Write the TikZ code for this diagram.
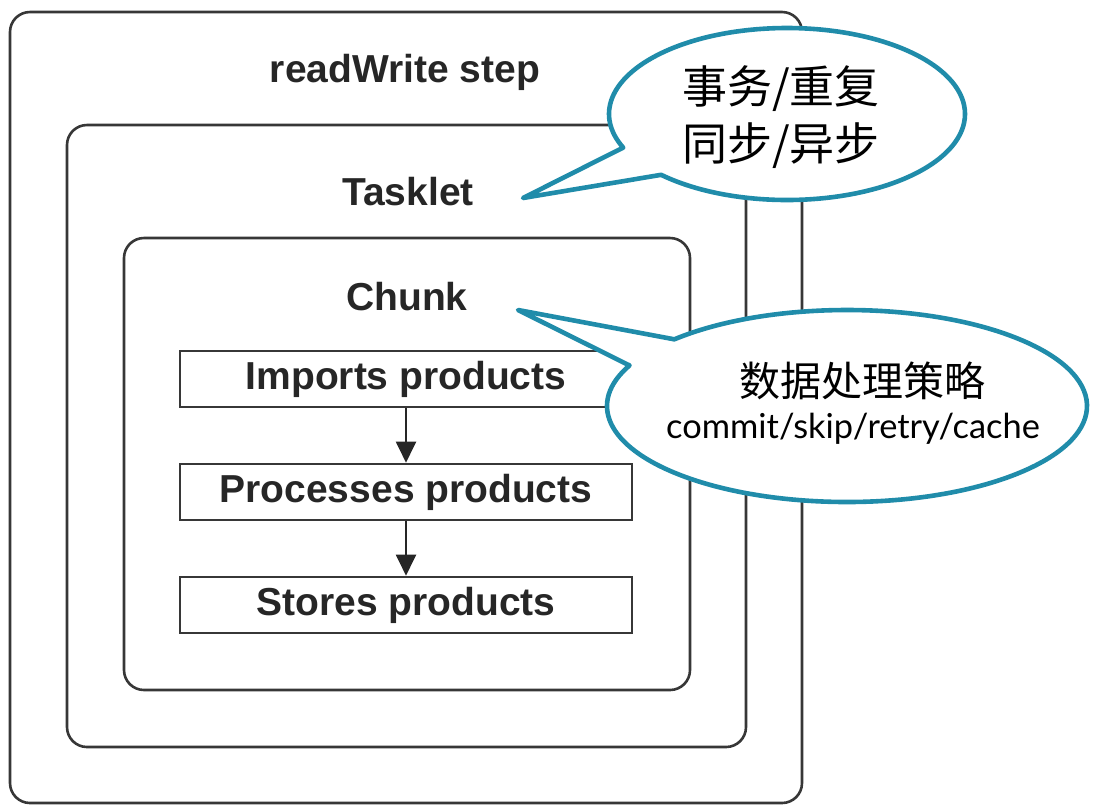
\documentclass[tikz,border=0pt]{standalone}
\usepackage{fontspec}
\setmainfont{Liberation Sans}
\newfontfamily\cjk{Noto Sans CJK SC}
\newfontfamily\gill{Lato}
\usetikzlibrary{arrows.meta,calc}
\definecolor{calloutblue}{RGB}{32,140,170}
\definecolor{boxgray}{RGB}{55,55,55}
\begin{document}
\begin{tikzpicture}[x=0.5pt,y=-0.5pt,
	frame/.style={draw=boxgray,line width=1.3pt,rounded corners=10pt,inner sep=0pt},
	stepbox/.style={draw=boxgray,line width=1.3pt,minimum width=226pt,minimum height=28pt,inner sep=0pt,font=\fontsize{19.5}{23}\selectfont\bfseries,text=black!85},
	title/.style={font=\fontsize{19.5}{23}\selectfont\bfseries,text=black!85,inner sep=0pt},
	flow/.style={arrows=-{Triangle[length=10.5pt,width=10pt]},line width=1pt,draw=black!85},
	callout/.style={draw=calloutblue,line width=2.3pt,fill=white,line join=round}]
	\useasboundingbox (0,0) rectangle (1096,810);
	% nested scopes
	\node [frame,minimum width=396pt,minimum height=395.5pt] (step) at (406,407.5) {};
	\node [frame,minimum width=339.5pt,minimum height=311pt] (tasklet) at (406.5,436) {};
	\node [frame,minimum width=283pt,minimum height=226pt] (chunk) at (407,464) {};
	\node [title] (steplabel) at (405,72) {readWrite step};
	\node [title] (taskletlabel) at (408,192) {Tasklet};
	\node [title] (chunklabel) at (407,297) {Chunk};
	% chunk steps
	\node [stepbox] (imports) at (406,379) {Imports products};
	\node [stepbox] (process) at (406,492) {Processes products};
	\node [stepbox] (stores) at (406,605) {Stores products};
	\draw [flow] (imports) -- (process);
	\draw [flow] (process) -- (stores);
	% callouts
	\coordinate (c1) at (787,114);
	\coordinate (tip1) at (523,198);
	\draw [callout] (tip1) -- ($(c1)+(135:178 and 86)$) arc [start angle=135,end angle=-203,x radius=178,y radius=86] -- cycle;
	\node [align=center,font=\cjk\fontsize{22.5}{28.5}\selectfont] (note1) at (781,117) {事务/重复\\同步/异步};
	\coordinate (c2) at (847,406);
	\coordinate (tip2) at (518,310);
	\draw [callout] (tip2) -- ($(c2)+(224:240 and 96)$) arc [start angle=224,end angle=565,x radius=240,y radius=96] -- cycle;
	\node [font=\cjk\fontsize{20.5}{24}\selectfont,inner sep=0pt] (note2a) at (862,381) {数据处理策略};
	\node [font=\gill\fontsize{17.2}{20}\selectfont,inner sep=0pt] (note2b) at (853,429) {commit/skip/retry/cache};
\end{tikzpicture}
\end{document}
